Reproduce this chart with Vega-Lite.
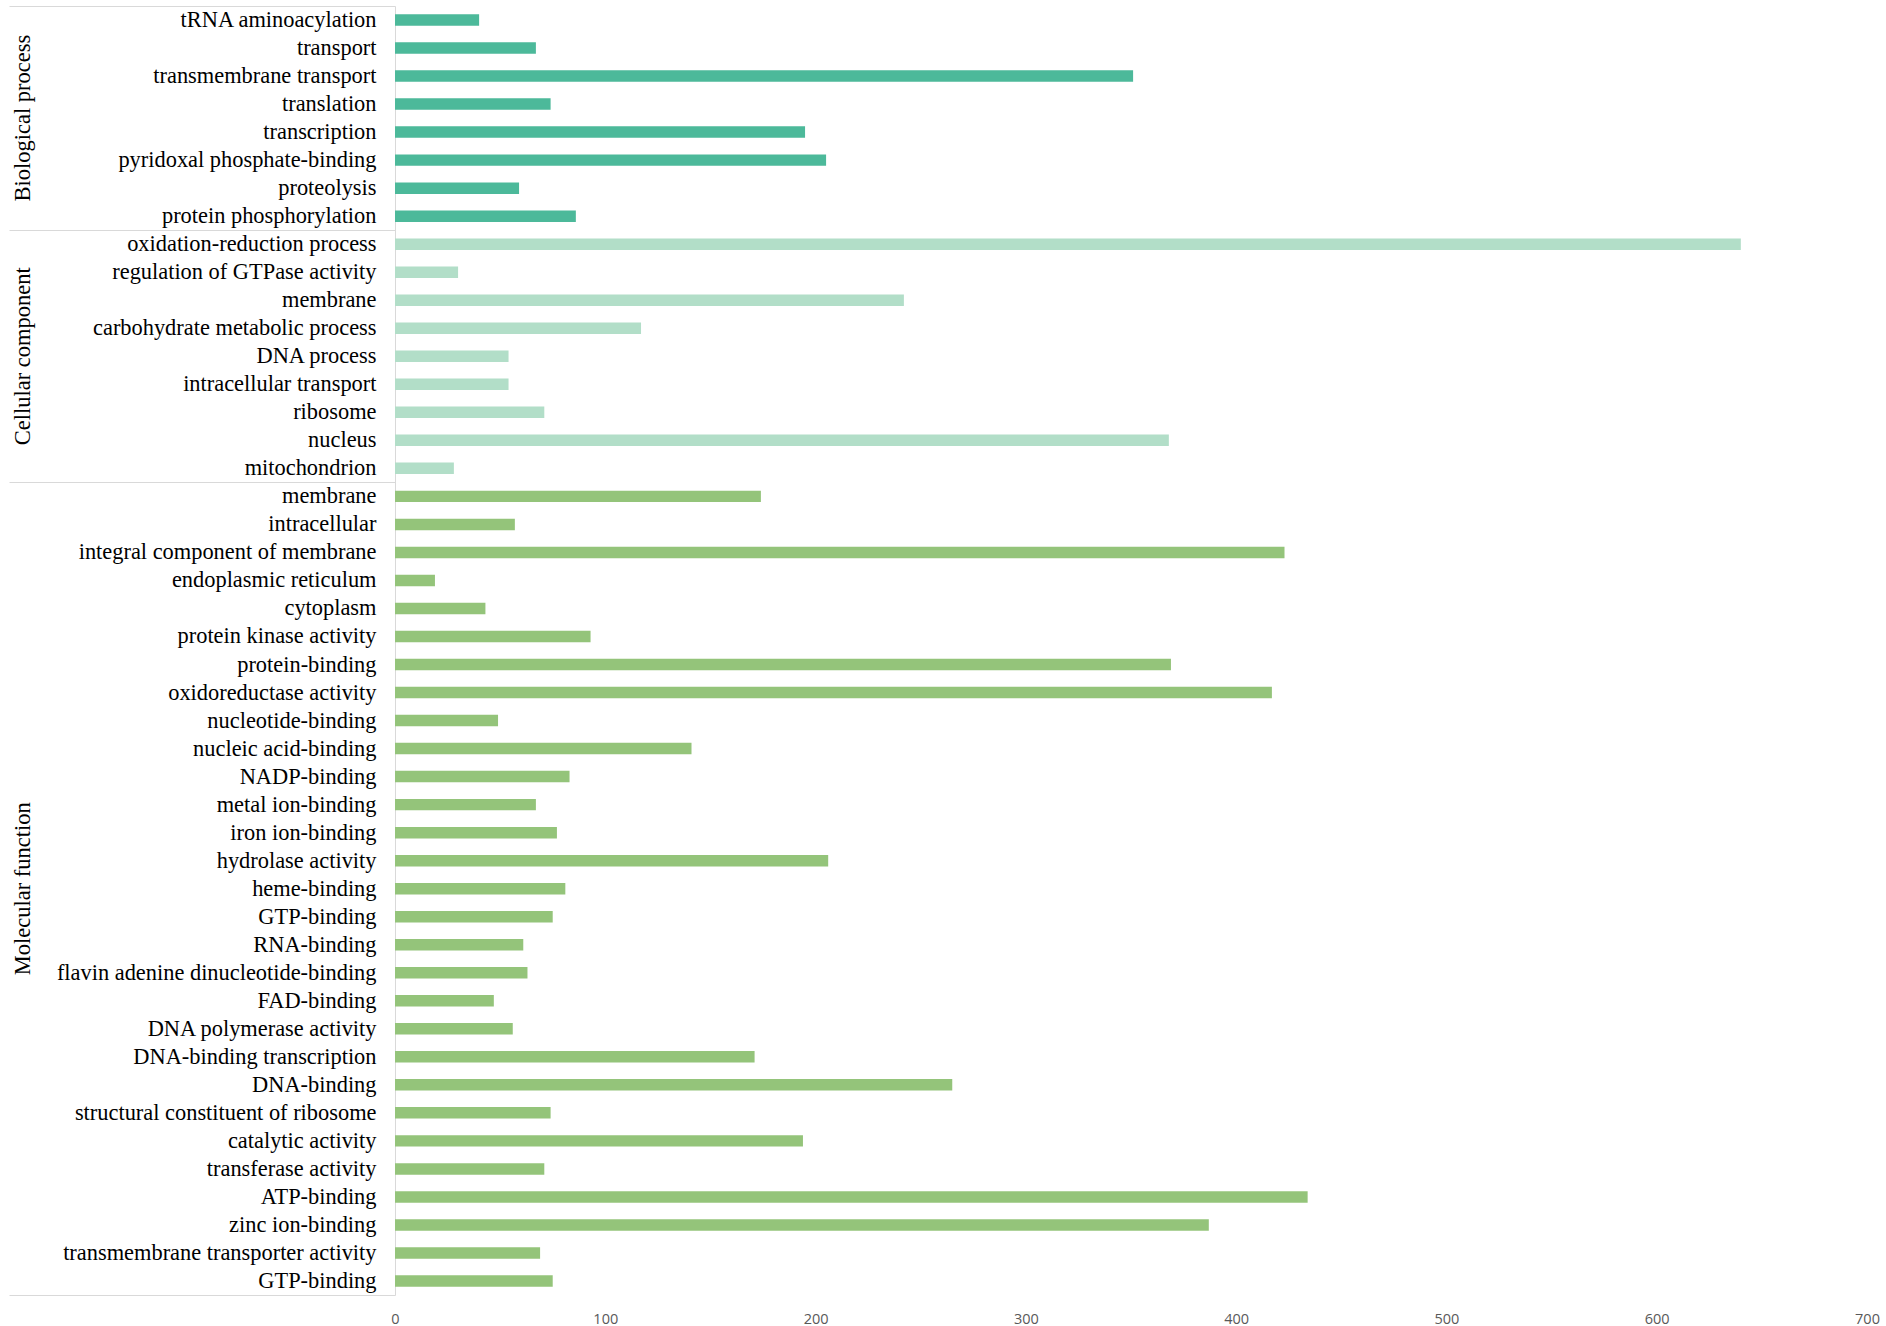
{
  "$schema": "https://vega.github.io/schema/vega-lite/v6.json",
  "width": 1472,
  "height": 1289,
  "padding": {"left": 8, "top": 5, "right": 5, "bottom": 0},
  "background": "white",
  "config": {"view": {"stroke": null}, "axis": {"grid": false}},
  "data": {"values": [
    {"key": "01|tRNA aminoacylation", "group": "Biological process", "count": 40},
    {"key": "02|transport", "group": "Biological process", "count": 67},
    {"key": "03|transmembrane transport", "group": "Biological process", "count": 351},
    {"key": "04|translation", "group": "Biological process", "count": 74},
    {"key": "05|transcription", "group": "Biological process", "count": 195},
    {"key": "06|pyridoxal phosphate-binding", "group": "Biological process", "count": 205},
    {"key": "07|proteolysis", "group": "Biological process", "count": 59},
    {"key": "08|protein phosphorylation", "group": "Biological process", "count": 86},
    {"key": "09|oxidation-reduction process", "group": "Cellular component", "count": 640},
    {"key": "10|regulation of GTPase activity", "group": "Cellular component", "count": 30},
    {"key": "11|membrane", "group": "Cellular component", "count": 242},
    {"key": "12|carbohydrate metabolic process", "group": "Cellular component", "count": 117},
    {"key": "13|DNA process", "group": "Cellular component", "count": 54},
    {"key": "14|intracellular transport", "group": "Cellular component", "count": 54},
    {"key": "15|ribosome", "group": "Cellular component", "count": 71},
    {"key": "16|nucleus", "group": "Cellular component", "count": 368},
    {"key": "17|mitochondrion", "group": "Cellular component", "count": 28},
    {"key": "18|membrane", "group": "Molecular function", "count": 174},
    {"key": "19|intracellular", "group": "Molecular function", "count": 57},
    {"key": "20|integral component of membrane", "group": "Molecular function", "count": 423},
    {"key": "21|endoplasmic reticulum", "group": "Molecular function", "count": 19},
    {"key": "22|cytoplasm", "group": "Molecular function", "count": 43},
    {"key": "23|protein kinase activity", "group": "Molecular function", "count": 93},
    {"key": "24|protein-binding", "group": "Molecular function", "count": 369},
    {"key": "25|oxidoreductase activity", "group": "Molecular function", "count": 417},
    {"key": "26|nucleotide-binding", "group": "Molecular function", "count": 49},
    {"key": "27|nucleic acid-binding", "group": "Molecular function", "count": 141},
    {"key": "28|NADP-binding", "group": "Molecular function", "count": 83},
    {"key": "29|metal ion-binding", "group": "Molecular function", "count": 67},
    {"key": "30|iron ion-binding", "group": "Molecular function", "count": 77},
    {"key": "31|hydrolase activity", "group": "Molecular function", "count": 206},
    {"key": "32|heme-binding", "group": "Molecular function", "count": 81},
    {"key": "33|GTP-binding", "group": "Molecular function", "count": 75},
    {"key": "34|RNA-binding", "group": "Molecular function", "count": 61},
    {"key": "35|flavin adenine dinucleotide-binding", "group": "Molecular function", "count": 63},
    {"key": "36|FAD-binding", "group": "Molecular function", "count": 47},
    {"key": "37|DNA polymerase activity", "group": "Molecular function", "count": 56},
    {"key": "38|DNA-binding transcription", "group": "Molecular function", "count": 171},
    {"key": "39|DNA-binding", "group": "Molecular function", "count": 265},
    {"key": "40|structural constituent of ribosome", "group": "Molecular function", "count": 74},
    {"key": "41|catalytic activity", "group": "Molecular function", "count": 194},
    {"key": "42|transferase activity", "group": "Molecular function", "count": 71},
    {"key": "43|ATP-binding", "group": "Molecular function", "count": 434},
    {"key": "44|zinc ion-binding", "group": "Molecular function", "count": 387},
    {"key": "45|transmembrane transporter activity", "group": "Molecular function", "count": 69},
    {"key": "46|GTP-binding", "group": "Molecular function", "count": 75}
  ]},
  "layer": [
    {
      "mark": {"type": "bar", "height": {"band": 0.41}},
      "encoding": {
        "y": {
          "field": "key", "type": "nominal", "sort": null,
          "scale": {"type": "band", "paddingInner": 0, "paddingOuter": 0},
          "axis": {
            "orient": "left", "title": null, "ticks": false, "domain": true,
            "domainColor": "#D9D9D9", "domainWidth": 1,
            "labelExpr": "substring(datum.label, 3)",
            "labelFont": "Liberation Serif", "labelFontSize": 22.4, "labelColor": "#000000",
            "labelPadding": 19, "labelLimit": 500
          }
        },
        "x": {
          "field": "count", "type": "quantitative",
          "scale": {"domain": [0, 700], "nice": false},
          "axis": {
            "title": null, "values": [0, 100, 200, 300, 400, 500, 600, 700],
            "domain": false, "ticks": false, "grid": false, "labelFlush": false,
            "labelFont": "Open Sans", "labelFontSize": 14.5, "labelColor": "#595959",
            "labelPadding": 17
          }
        },
        "color": {
          "field": "group", "type": "nominal",
          "scale": {"domain": ["Biological process", "Cellular component", "Molecular function"], "range": ["#4CB99A", "#B2DEC8", "#94C47A"]},
          "legend": null
        }
      }
    },
    {
      "mark": {"type": "bar", "opacity": 0},
      "encoding": {
        "y": {
          "field": "key", "type": "nominal", "sort": null,
          "axis": {
            "orient": "left", "title": null, "domain": false,
            "values": ["01|tRNA aminoacylation", "09|oxidation-reduction process", "18|membrane"],
            "bandPosition": 0, "ticks": true, "tickSize": 386, "tickColor": "#D9D9D9", "tickWidth": 1,
            "labelExpr": "datum.value == '01|tRNA aminoacylation' ? 'Biological process' : (datum.value == '09|oxidation-reduction process' ? 'Cellular component' : 'Molecular function')",
            "labelAngle": 270, "labelAlign": "center", "labelBaseline": "middle",
            "labelPadding": -13.5, "labelFont": "Liberation Serif", "labelFontSize": 22.5, "labelColor": "#000000",
            "labelLimit": 600,
            "labelOffset": {"condition": [{"test": "datum.value == '01|tRNA aminoacylation'", "value": 98.1}, {"test": "datum.value == '09|oxidation-reduction process'", "value": 112.1}], "value": 392.4}
          }
        }
      }
    },
    {
      "mark": {"type": "bar", "opacity": 0},
      "encoding": {
        "y": {
          "field": "key", "type": "nominal", "sort": null,
          "axis": {
            "orient": "left", "title": null, "domain": false, "labels": false,
            "values": ["46|GTP-binding"],
            "bandPosition": 1, "ticks": true, "tickSize": 386, "tickColor": "#D9D9D9", "tickWidth": 1
          }
        }
      }
    }
  ],
  "resolve": {"axis": {"y": "independent"}}
}
